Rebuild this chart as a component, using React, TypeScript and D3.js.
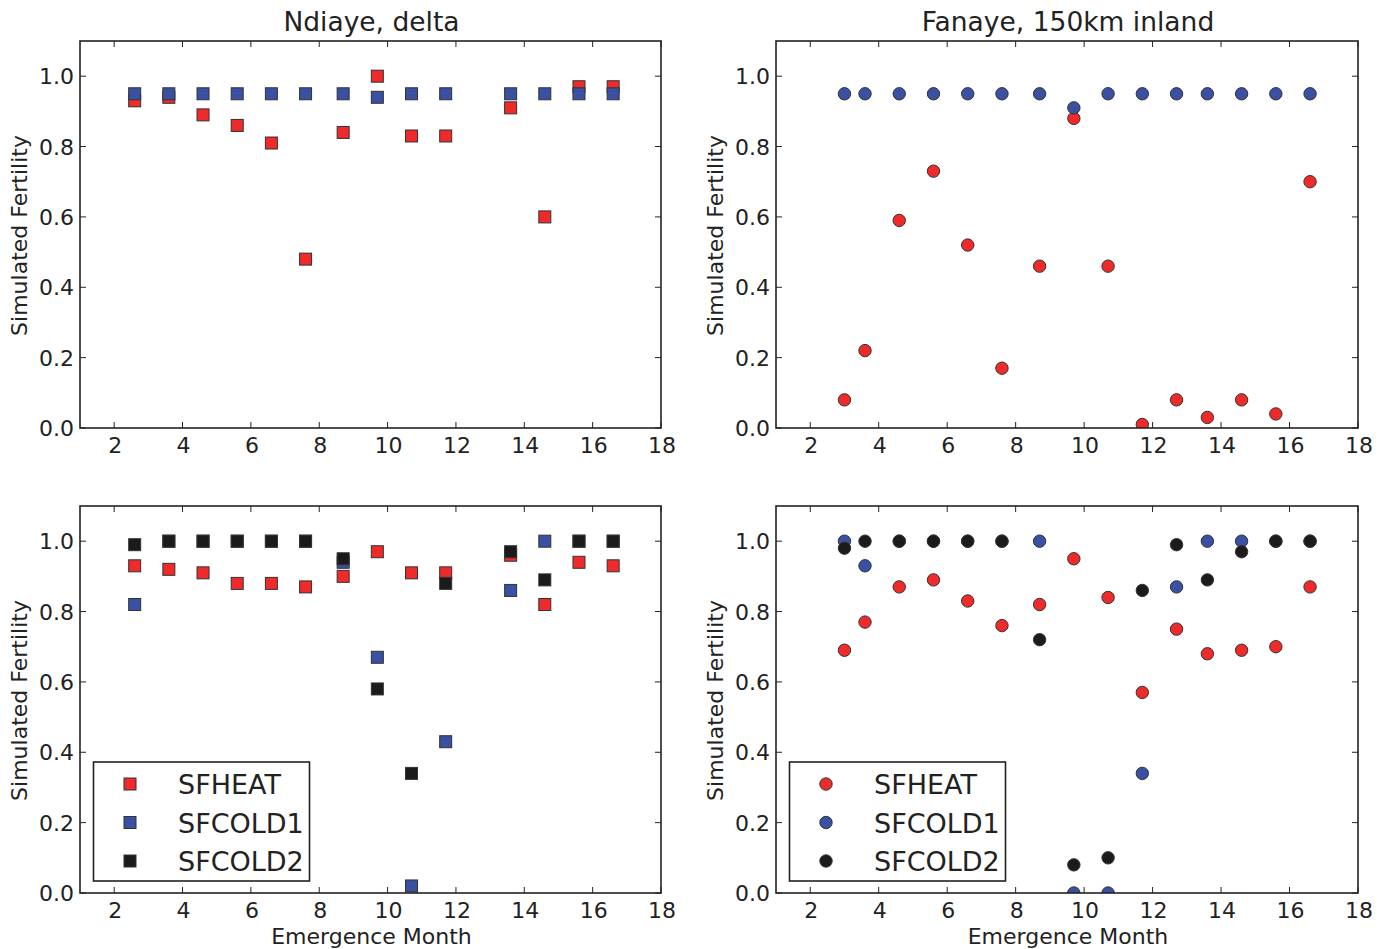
import React from "react";
import * as d3 from "d3";

// ---- data ----
const ndiayeMonths = [2.6, 3.6, 4.6, 5.6, 6.6, 7.6, 8.7, 9.7, 10.7, 11.7, 13.6, 14.6, 15.6, 16.6];
const fanayeMonths = [3.0, 3.6, 4.6, 5.6, 6.6, 7.6, 8.7, 9.7, 10.7, 11.7, 12.7, 13.6, 14.6, 15.6, 16.6];

const ndiayeHeatTop = [0.93, 0.94, 0.89, 0.86, 0.81, 0.48, 0.84, 1.0, 0.83, 0.83, 0.91, 0.6, 0.97, 0.97];
const ndiayeCold1Top = [0.95, 0.95, 0.95, 0.95, 0.95, 0.95, 0.95, 0.94, 0.95, 0.95, 0.95, 0.95, 0.95, 0.95];

const fanayeHeatTop = [0.08, 0.22, 0.59, 0.73, 0.52, 0.17, 0.46, 0.88, 0.46, 0.01, 0.08, 0.03, 0.08, 0.04, 0.7];
const fanayeCold1Top = [0.95, 0.95, 0.95, 0.95, 0.95, 0.95, 0.95, 0.91, 0.95, 0.95, 0.95, 0.95, 0.95, 0.95, 0.95];

const ndiayeHeatBot = [0.93, 0.92, 0.91, 0.88, 0.88, 0.87, 0.9, 0.97, 0.91, 0.91, 0.96, 0.82, 0.94, 0.93];
const ndiayeCold1Bot = [0.82, 1.0, 1.0, 1.0, 1.0, 1.0, 0.94, 0.67, 0.02, 0.43, 0.86, 1.0, 1.0, 1.0];
const ndiayeCold2Bot = [0.99, 1.0, 1.0, 1.0, 1.0, 1.0, 0.95, 0.58, 0.34, 0.88, 0.97, 0.89, 1.0, 1.0];

const fanayeHeatBot = [0.69, 0.77, 0.87, 0.89, 0.83, 0.76, 0.82, 0.95, 0.84, 0.57, 0.75, 0.68, 0.69, 0.7, 0.87];
const fanayeCold1Bot = [1.0, 0.93, 1.0, 1.0, 1.0, 1.0, 1.0, 0.0, 0.0, 0.34, 0.87, 1.0, 1.0, 1.0, 1.0];
const fanayeCold2Bot = [0.98, 1.0, 1.0, 1.0, 1.0, 1.0, 0.72, 0.08, 0.1, 0.86, 0.99, 0.89, 0.97, 1.0, 1.0];

const seriesNames = ["SFHEAT", "SFCOLD1", "SFCOLD2"];
const seriesColors = ["#ee2a2a", "#3a50a2", "#1c1a1a"];
const xTicks = [2, 4, 6, 8, 10, 12, 14, 16, 18];
const yTicks = [0, 0.2, 0.4, 0.6, 0.8, 1.0];
const titles = ["Ndiaye, delta", "Fanaye, 150km inland"];

const FONT = "DejaVu Sans, Liberation Sans, sans-serif";
const INK = "#222";

type Series = { name: string; color: string; values: number[] };
type PanelDef = {
  id: string;
  x0: number;
  y0: number;
  w: number;
  h: number;
  months: number[];
  series: Series[];
  marker: "square" | "circle";
  title?: string;
  xLabel?: boolean;
  legend?: boolean;
};

const panels: PanelDef[] = [
  {
    id: "tl", x0: 80, y0: 41, w: 581, h: 387, months: ndiayeMonths, marker: "square", title: titles[0],
    series: [
      { name: seriesNames[0], color: seriesColors[0], values: ndiayeHeatTop },
      { name: seriesNames[1], color: seriesColors[1], values: ndiayeCold1Top },
    ],
  },
  {
    id: "tr", x0: 776, y0: 41, w: 582, h: 387, months: fanayeMonths, marker: "circle", title: titles[1],
    series: [
      { name: seriesNames[0], color: seriesColors[0], values: fanayeHeatTop },
      { name: seriesNames[1], color: seriesColors[1], values: fanayeCold1Top },
    ],
  },
  {
    id: "bl", x0: 80, y0: 506, w: 581, h: 387, months: ndiayeMonths, marker: "square", xLabel: true, legend: true,
    series: [
      { name: seriesNames[0], color: seriesColors[0], values: ndiayeHeatBot },
      { name: seriesNames[1], color: seriesColors[1], values: ndiayeCold1Bot },
      { name: seriesNames[2], color: seriesColors[2], values: ndiayeCold2Bot },
    ],
  },
  {
    id: "br", x0: 776, y0: 506, w: 582, h: 387, months: fanayeMonths, marker: "circle", xLabel: true, legend: true,
    series: [
      { name: seriesNames[0], color: seriesColors[0], values: fanayeHeatBot },
      { name: seriesNames[1], color: seriesColors[1], values: fanayeCold1Bot },
      { name: seriesNames[2], color: seriesColors[2], values: fanayeCold2Bot },
    ],
  },
];

const SQ = 12;
const CR = 6.2;

function Marker({ kind, cx, cy, color }: { kind: string; cx: number; cy: number; color: string }) {
  if (kind === "square") {
    return (
      <rect x={cx - SQ / 2} y={cy - SQ / 2} width={SQ} height={SQ} fill={color} stroke="#333" strokeWidth={1} />
    );
  }
  return <circle cx={cx} cy={cy} r={CR} fill={color} stroke="#333" strokeWidth={1} />;
}

function Panel({ p }: { p: PanelDef }) {
  const x = d3.scaleLinear().domain([1, 18]).range([p.x0, p.x0 + p.w]);
  const y = d3.scaleLinear().domain([0, 1.1]).range([p.y0 + p.h, p.y0]);
  const bottom = p.y0 + p.h;
  const right = p.x0 + p.w;
  const tl = 6;
  const fmt = d3.format(".1f");
  return (
    <g>
      <defs>
        <clipPath id={`clip-${p.id}`}>
          <rect x={p.x0} y={p.y0} width={p.w} height={p.h} />
        </clipPath>
      </defs>
      <g clipPath={`url(#clip-${p.id})`}>
        {p.series.map((s) => (
          <g key={s.name}>
            {s.values.map((v, i) => (
              <Marker key={i} kind={p.marker} cx={x(p.months[i])} cy={y(v)} color={s.color} />
            ))}
          </g>
        ))}
      </g>
      {/* ticks */}
      {xTicks.map((t) => (
        <g key={`xt${t}`}>
          <line x1={x(t)} x2={x(t)} y1={bottom} y2={bottom - tl} stroke={INK} strokeWidth={1} />
          <line x1={x(t)} x2={x(t)} y1={p.y0} y2={p.y0 + tl} stroke={INK} strokeWidth={1} />
          <text x={x(t) + 1} y={bottom + 25} textAnchor="middle" fontSize={22} fontFamily={FONT} fill={INK}>
            {t}
          </text>
        </g>
      ))}
      {yTicks.map((t) => (
        <g key={`yt${t}`}>
          <line x1={p.x0} x2={p.x0 + tl} y1={y(t)} y2={y(t)} stroke={INK} strokeWidth={1} />
          <line x1={right} x2={right - tl} y1={y(t)} y2={y(t)} stroke={INK} strokeWidth={1} />
          <text x={p.x0 - 6} y={y(t) + 8} textAnchor="end" fontSize={22} fontFamily={FONT} fill={INK}>
            {fmt(t)}
          </text>
        </g>
      ))}
      <rect x={p.x0} y={p.y0} width={p.w} height={p.h} fill="none" stroke={INK} strokeWidth={1.6} />
      <text
        transform={`translate(${p.x0 - 53},${p.y0 + p.h / 2 + 1}) rotate(-90)`}
        textAnchor="middle"
        fontSize={22}
        fontFamily={FONT}
        fill={INK}
      >
        Simulated Fertility
      </text>
      {p.title && (
        <text x={(p.x0 + right) / 2 + 1} y={p.y0 - 10} textAnchor="middle" fontSize={26.5} fontFamily={FONT} fill={INK}>
          {p.title}
        </text>
      )}
      {p.xLabel && (
        <text x={(p.x0 + right) / 2 + 1} y={bottom + 51} textAnchor="middle" fontSize={22} fontFamily={FONT} fill={INK}>
          Emergence Month
        </text>
      )}
      {p.legend && (
        <g>
          <rect x={p.x0 + 13.5} y={bottom - 131} width={216} height={119} fill="#fff" stroke={INK} strokeWidth={1.6} />
          {p.series.map((s, i) => {
            const cy = bottom - 109 + i * 38.5;
            return (
              <g key={s.name}>
                <Marker kind={p.marker} cx={p.x0 + 50} cy={cy} color={s.color} />
                <text x={p.x0 + 98} y={cy + 10} fontSize={27} fontFamily={FONT} fill={INK}>
                  {s.name}
                </text>
              </g>
            );
          })}
        </g>
      )}
    </g>
  );
}

export default function App() {
  return (
    <svg width={1385} height={949} style={{ display: "block", position: "absolute", left: 0, top: 0, background: "#fff" }}>
      <rect width={1385} height={949} fill="#fff" />
      {panels.map((p) => (
        <Panel key={p.id} p={p} />
      ))}
    </svg>
  );
}
